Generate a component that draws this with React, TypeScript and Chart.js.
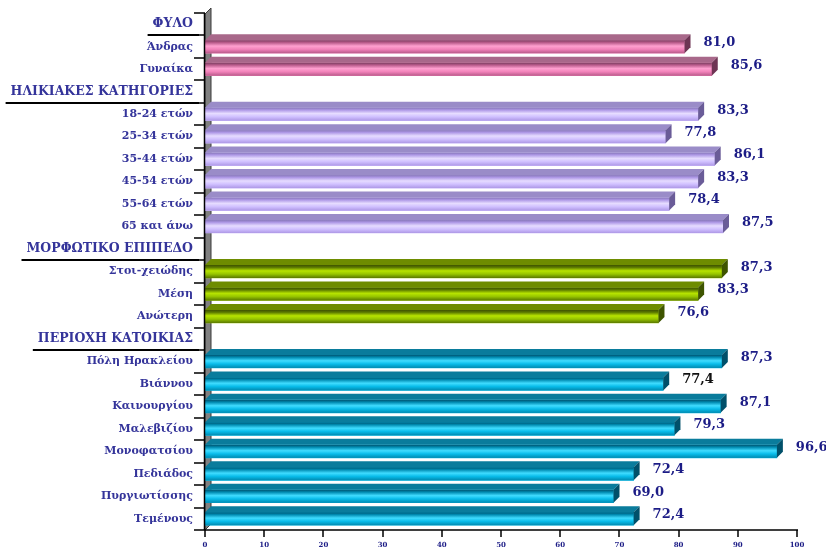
import React, { useEffect, useRef } from "react";
import { Chart, registerables } from "chart.js";

Chart.register(...registerables);

// Row labels (group headers have no bar)
const categories = [
  "ΦΥΛΟ",
  "Άνδρας",
  "Γυναίκα",
  "ΗΛΙΚΙΑΚΕΣ ΚΑΤΗΓΟΡΙΕΣ",
  "18-24 ετών",
  "25-34 ετών",
  "35-44 ετών",
  "45-54 ετών",
  "55-64 ετών",
  "65 και άνω",
  "ΜΟΡΦΩΤΙΚΟ ΕΠΙΠΕΔΟ",
  "Στοι-χειώδης",
  "Μέση",
  "Ανώτερη",
  "ΠΕΡΙΟΧΗ ΚΑΤΟΙΚΙΑΣ",
  "Πόλη Ηρακλείου",
  "Βιάννου",
  "Καινουργίου",
  "Μαλεβιζίου",
  "Μονοφατσίου",
  "Πεδιάδος",
  "Πυργιωτίσσης",
  "Τεμένους",
];

const values: (number | null)[] = [
  null, 81.0, 85.6,
  null, 83.3, 77.8, 86.1, 83.3, 78.4, 87.5,
  null, 87.3, 83.3, 76.6,
  null, 87.3, 77.4, 87.1, 79.3, 96.6, 72.4, 69.0, 72.4,
];

// Which colour family each row belongs to
const groups = [
  "sex", "sex", "sex",
  "age", "age", "age", "age", "age", "age", "age",
  "edu", "edu", "edu", "edu",
  "area", "area", "area", "area", "area", "area", "area", "area", "area",
];

const headerRows = [0, 3, 10, 14];
const blackValueRows = [16];
const xTicks = [0, 10, 20, 30, 40, 50, 60, 70, 80, 90, 100];

type Palette = { top: string; hi: string; mid: string; low: string; lid: string; side: string };
const palettes: Record<string, Palette> = {
  sex: { top: "#7a3e60", hi: "#ffa0d0", mid: "#f282ba", low: "#b85a8a", lid: "#a8688a", side: "#6e3454" },
  age: { top: "#8676b8", hi: "#e6dcff", mid: "#d0c0ff", low: "#ae98e6", lid: "#9a8cc8", side: "#6a5c98" },
  edu: { top: "#3e5200", hi: "#b8e400", mid: "#96c400", low: "#5a7800", lid: "#6e8c00", side: "#3e5400" },
  area: { top: "#005470", hi: "#40dcff", mid: "#08bcea", low: "#008ab0", lid: "#0a7c9c", side: "#00506a" },
};

const DEPTH = 6;
const SERIF = "DejaVu Serif";
const HEADER_SIZE = 12.5;
const LABEL_SIZE = 11;

const bar3d = {
  id: "bar3d",
  beforeDatasetsDraw(chart: any) {
    const { ctx, chartArea } = chart;
    const l = chartArea.left;
    ctx.save();
    ctx.beginPath();
    ctx.moveTo(l, chartArea.top + 1);
    ctx.lineTo(l + DEPTH, chartArea.top + 1 - DEPTH);
    ctx.lineTo(l + DEPTH, chartArea.bottom - DEPTH);
    ctx.lineTo(l, chartArea.bottom);
    ctx.closePath();
    ctx.fillStyle = "#808080";
    ctx.fill();
    ctx.strokeStyle = "#3a3a3a";
    ctx.lineWidth = 1;
    ctx.stroke();
    ctx.restore();
  },
  afterDatasetsDraw(chart: any) {
    const { ctx } = chart;
    const meta = chart.getDatasetMeta(0);
    ctx.save();
    meta.data.forEach((el: any, i: number) => {
      const v = values[i];
      if (v == null) return;
      const p = palettes[groups[i]];
      const { x, y, base, height } = el.getProps(["x", "y", "base", "height"], true);
      const top = y - height / 2;
      const bottom = y + height / 2;
      // front face shading
      const g = ctx.createLinearGradient(0, top, 0, bottom);
      g.addColorStop(0, p.top);
      g.addColorStop(0.18, p.low);
      g.addColorStop(0.45, p.hi);
      g.addColorStop(0.7, p.mid);
      g.addColorStop(1, p.low);
      ctx.fillStyle = g;
      ctx.fillRect(base, top, x - base, height);
      // lid
      ctx.beginPath();
      ctx.moveTo(base, top);
      ctx.lineTo(base + DEPTH, top - DEPTH);
      ctx.lineTo(x + DEPTH, top - DEPTH);
      ctx.lineTo(x, top);
      ctx.closePath();
      ctx.fillStyle = p.lid;
      ctx.fill();
      // end face
      ctx.beginPath();
      ctx.moveTo(x, top);
      ctx.lineTo(x + DEPTH, top - DEPTH);
      ctx.lineTo(x + DEPTH, bottom - DEPTH);
      ctx.lineTo(x, bottom);
      ctx.closePath();
      ctx.fillStyle = p.side;
      ctx.fill();
      // value label
      ctx.font = `bold 13px "${SERIF}"`;
      ctx.textAlign = "left";
      ctx.textBaseline = "middle";
      ctx.fillStyle = blackValueRows.includes(i) ? "#111111" : "#1c1c86";
      ctx.fillText(v.toFixed(1).replace(".", ","), x + 19, y - 4);
    });
    ctx.restore();
  },
  afterDraw(chart: any) {
    const { ctx } = chart;
    const ys = chart.scales.y;
    const xs = chart.scales.x;
    const n = categories.length;
    const step = (ys.bottom - ys.top) / n;
    const axisX = Math.round(ys.right);
    const axisY = Math.round(xs.top);
    ctx.save();
    ctx.strokeStyle = "#000000";
    ctx.lineWidth = 1.5;
    ctx.beginPath();
    // category boundaries on the vertical axis
    for (let i = 0; i <= n; i++) {
      const yb = Math.round(ys.top + i * step);
      ctx.moveTo(axisX - 11, yb);
      ctx.lineTo(axisX, yb);
    }
    ctx.moveTo(axisX - 0.5, ys.top);
    ctx.lineTo(axisX - 0.5, ys.bottom);
    // value axis and its ticks
    ctx.moveTo(xs.left - 1, axisY);
    ctx.lineTo(xs.right + 1, axisY);
    xTicks.forEach((v) => {
      const xv = Math.round(xs.getPixelForValue(v));
      ctx.moveTo(xv, axisY);
      ctx.lineTo(xv, axisY + 7);
    });
    ctx.stroke();

    // underline the group headers
    ctx.fillStyle = "#000000";
    ctx.font = `bold ${HEADER_SIZE}px "${SERIF}"`;
    headerRows.forEach((i) => {
      const w = ctx.measureText(categories[i]).width;
      const yLine = Math.round(ys.top + (i + 1) * step);
      const right = axisX - 12;
      ctx.fillRect(right - w - 5, yLine - 1, w + 11, 2);
    });
    ctx.restore();
  },
};

export default function App() {
  const ref = useRef<HTMLCanvasElement>(null);

  useEffect(() => {
    if (!ref.current) return;
    const chart = new Chart(ref.current, {
      type: "bar",
      data: {
        labels: categories,
        datasets: [
          {
            data: values as any,
            backgroundColor: groups.map((g) => palettes[g].mid),
            borderWidth: 0,
            barThickness: 13,
          },
        ],
      },
      options: {
        indexAxis: "y",
        responsive: false,
        animation: false,
        layout: { padding: { top: 13, right: 29, left: 0, bottom: 0 } },
        plugins: { legend: { display: false }, tooltip: { enabled: false } },
        scales: {
          x: {
            min: 0,
            max: 100,
            afterFit: (s: any) => {
              s.height = 28;
            },
            afterBuildTicks: (s: any) => {
              s.ticks = xTicks.map((v) => ({ value: v }));
            },
            grid: { display: false, drawTicks: false },
            border: { display: false },
            ticks: {
              color: "#1c1c86",
              font: { family: SERIF, size: 7, weight: "bold" },
              padding: 11,
              maxRotation: 0,
            },
          },
          y: {
            afterFit: (s: any) => {
              s.width = 205;
            },
            grid: {
              display: true,
              drawOnChartArea: false,
              drawTicks: true,
              tickLength: 10,
              color: "rgba(0,0,0,0)",
            },
            border: { display: false },
            ticks: {
              color: "#34349a",
              font: (c: any) => ({
                family: SERIF,
                size: headerRows.includes(c.index) ? HEADER_SIZE : LABEL_SIZE,
                weight: "bold",
              }),
              padding: 2,
              autoSkip: false,
            },
          },
        },
      },
      plugins: [bar3d],
    });
    return () => chart.destroy();
  }, []);

  return (
    <div style={{ position: "absolute", left: 0, top: 0, width: 826, height: 558, background: "#fff" }}>
      <canvas ref={ref} width={826} height={558} />
    </div>
  );
}
